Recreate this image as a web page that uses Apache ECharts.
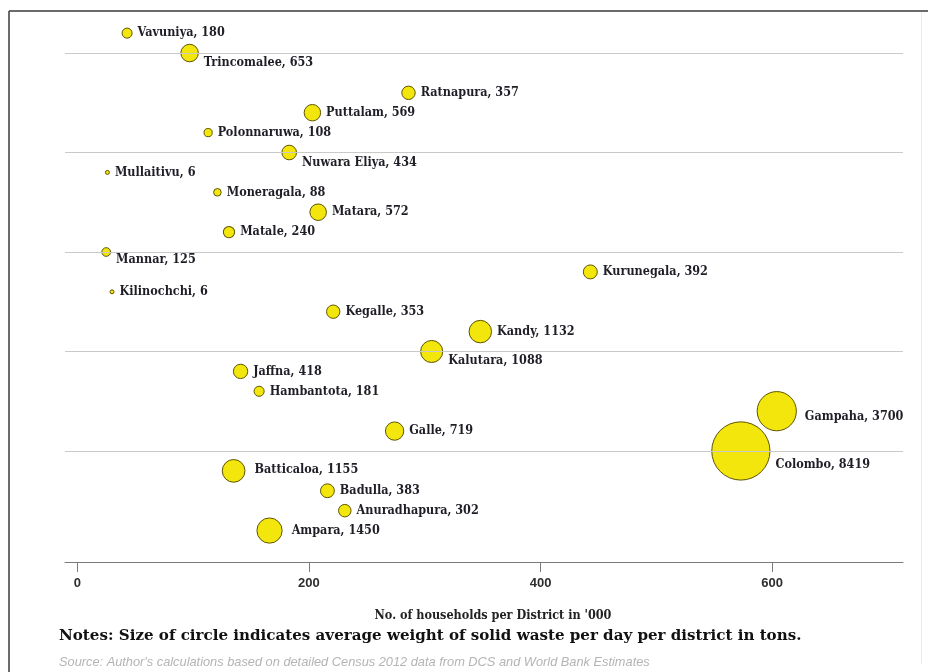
<!DOCTYPE html>
<html>
<head>
<meta charset="utf-8">
<script src="https://cdn.jsdelivr.net/npm/echarts@6/dist/echarts.min.js"></script>
<style>
  html, body { margin: 0; padding: 0; background: #ffffff; }
  #chart { width: 928px; height: 672px; }
</style>
</head>
<body>
<div id="chart"></div>
<script>
// Districts of Sri Lanka: households ('000) on x, one row per district on y,
// bubble area from average solid waste per day (tons).
const districts = ['Ampara', 'Anuradhapura', 'Badulla', 'Batticaloa', 'Colombo', 'Galle', 'Gampaha',
  'Hambantota', 'Jaffna', 'Kalutara', 'Kandy', 'Kegalle', 'Kilinochchi', 'Kurunegala', 'Mannar',
  'Matale', 'Matara', 'Moneragala', 'Mullaitivu', 'Nuwara Eliya', 'Polonnaruwa', 'Puttalam',
  'Ratnapura', 'Trincomalee', 'Vavuniya'];
const households = [166, 231, 216, 135, 573, 274, 604,
  157, 141, 306, 348, 221, 30, 443, 25,
  131, 208, 121, 26, 183, 113, 203,
  286, 97, 43];
const rows = [1, 2, 3, 4, 5, 6, 7,
  8, 9, 10, 11, 12, 13, 14, 15,
  16, 17, 18, 19, 20, 21, 22,
  23, 25, 26];
const wasteTons = [1450, 302, 383, 1155, 8419, 719, 3700,
  181, 418, 1088, 1132, 353, 6, 392, 125,
  240, 572, 88, 6, 434, 108, 569,
  357, 653, 180];
const xTicks = [0, 200, 400, 600];
const gridRows = [5, 10, 15, 20, 25];

// Labels that sit on or near a grid line are pushed below it.
const labelNudge = {
  'Trincomalee': [0, 10],
  'Nuwara Eliya': [0, 10],
  'Mannar': [0, 8],
  'Kalutara': [0, 9],
  'Colombo': [0, 14],
  'Gampaha': [3, 6],
  'Batticaloa': [4, -1],
  'Ampara': [4, 0]
};

const slabFont = '"DejaVu Serif Condensed", "DejaVu Serif", serif';

const bubbles = districts.map((name, i) => ({
  name: name,
  value: [households[i], rows[i], wasteTons[i]]
}));

const chart = echarts.init(document.getElementById('chart'), null, { renderer: 'canvas' });

chart.setOption({
  animation: false,
  backgroundColor: '#ffffff',
  grid: { left: 65, right: 25, top: 20, bottom: 110, containLabel: false },
  xAxis: {
    type: 'value',
    min: -10.6,
    max: 713,
    splitLine: { show: false },
    axisLine: { show: true, onZero: false, lineStyle: { color: '#7a7a7a', width: 1 } },
    axisTick: { show: true, length: 10, customValues: xTicks, lineStyle: { color: '#7a7a7a' } },
    axisLabel: {
      customValues: xTicks,
      margin: 15,
      color: '#2e2e2e',
      fontFamily: '"Liberation Sans", Arial, sans-serif',
      fontWeight: 'bold',
      fontSize: 13
    },
    name: "No. of households per District in '000",
    nameLocation: 'middle',
    nameGap: 47,
    nameTextStyle: {
      color: '#222222',
      fontFamily: slabFont,
      fontWeight: 'bold',
      fontSize: 12.5,
      padding: [0, 0, 0, 18]
    }
  },
  yAxis: {
    type: 'value',
    min: -0.58,
    max: 26.66,
    show: false,
    splitLine: { show: false }
  },
  graphic: [
    { type: 'line', shape: { x1: 9, y1: 11, x2: 928, y2: 11 }, style: { stroke: '#3a3a3a', lineWidth: 1.5 }, silent: true },
    { type: 'line', shape: { x1: 9, y1: 11, x2: 9, y2: 672 }, style: { stroke: '#3a3a3a', lineWidth: 1.5 }, silent: true },
    { type: 'line', shape: { x1: 921.5, y1: 12, x2: 921.5, y2: 664 }, style: { stroke: '#ececec', lineWidth: 1 }, silent: true },
    {
      type: 'text', left: 59, top: 629,
      style: {
        text: 'Notes: Size of circle indicates average weight of solid waste per day per district in tons.',
        font: 'bold 15.1px "DejaVu Serif", serif',
        fill: '#111111'
      }
    },
    {
      type: 'text', left: 59, top: 656,
      style: {
        text: "Source: Author's calculations based on detailed Census 2012 data from DCS and World Bank Estimates",
        font: 'italic 12.8px "Liberation Sans Narrow", "Liberation Sans", Arial, sans-serif',
        fill: '#b4b4b4'
      }
    }
  ],
  series: [
    {
      type: 'scatter',
      data: [],
      z: 1,
      silent: true,
      markLine: {
        silent: true,
        symbol: ['none', 'none'],
        label: { show: false },
        lineStyle: { color: '#c9c9c9', width: 1, type: 'solid' },
        data: gridRows.map(v => ({ yAxis: v }))
      }
    },
    {
      type: 'scatter',
      z: 3,
      data: bubbles,
      symbol: 'circle',
      symbolSize: v => Math.max(4, 0.615 * Math.sqrt(v[2]) + 1.8),
      itemStyle: { color: '#f3e60d', borderColor: '#5e5400', borderWidth: 1, opacity: 1 },
      label: {
        show: true,
        position: 'right',
        distance: 5,
        formatter: p => p.name + ', ' + p.value[2],
        color: '#1e1e26',
        fontFamily: slabFont,
        fontWeight: 'bold',
        fontSize: 12.5
      },
      labelLayout: params => {
        const n = labelNudge[districts[params.dataIndex]];
        return n ? { dx: n[0], dy: n[1] } : {};
      }
    }
  ]
});
</script>
</body>
</html>
